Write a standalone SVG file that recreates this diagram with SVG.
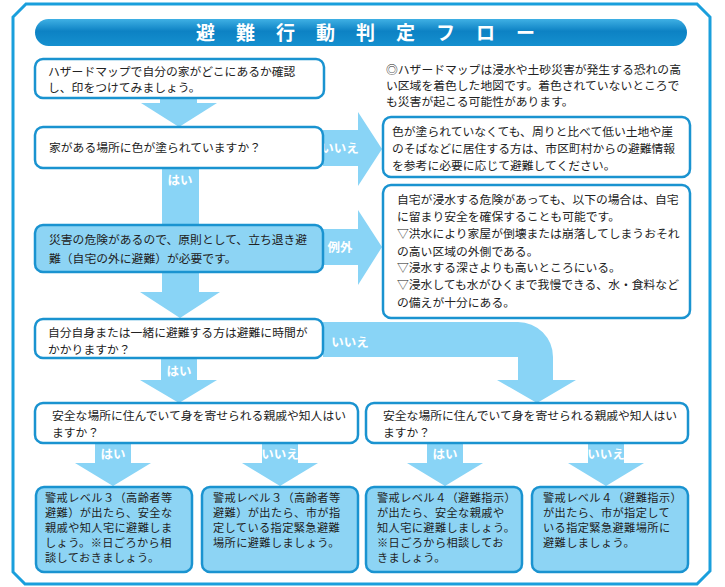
<svg xmlns="http://www.w3.org/2000/svg" width="725" height="587" viewBox="0 0 725 587">
<defs>
<linearGradient id="tg" x1="0" y1="0" x2="0" y2="1">
<stop offset="0" stop-color="#3fb0e4"/>
<stop offset="0.45" stop-color="#0d82c4"/>
<stop offset="1" stop-color="#1590cf"/>
</linearGradient>
<style>
.frame{fill:none;stroke:#1a9fdc;stroke-width:3}
.box{fill:#ffffff;stroke:#1a93d0;stroke-width:2.5}
.boxb{fill:#8dd4f4;stroke:#1a93d0;stroke-width:2.5}
.arr{fill:#89d4f6}
.t{font-family:"Noto Sans CJK JP","Noto Sans",sans-serif;font-size:11.8px;fill:#222}
.s{font-family:"Noto Sans CJK JP","Noto Sans",sans-serif;font-size:11.2px;letter-spacing:0.4px;fill:#222}
.lb{font-family:"Noto Sans CJK JP","Noto Sans",sans-serif;font-size:12.5px;fill:#ffffff;font-weight:bold}
.title{font-family:"Noto Sans CJK JP","Noto Sans",sans-serif;font-size:19px;fill:#ffffff;font-weight:bold;letter-spacing:21px}
</style>
</defs>
<rect width="725" height="587" fill="#ffffff"/>
<path class="frame" d="M26,4 H697 L710,17 V571 L697,584 H25 L13,572 V17 Z"/>
<g id="title">
<rect x="35" y="19" width="652" height="27" rx="13.5" fill="url(#tg)"/>
<text class="title" x="196" y="40">避難行動判定フロー</text>
</g>
<g id="connectors">
<path class="arr" d="M160,98 H197 V103 H217 L179,127 L141,103 H160 Z"/>
<path class="arr" d="M323,130 H358 V112 L382,149 L358,186 V166 H323 Z"/>
<text class="lb" x="340" y="153" text-anchor="middle" font-weight="normal">いいえ</text>
<path class="arr" d="M162,168 H199 V292 H220 L180,318 L140,292 H162 Z"/>
<text class="lb" x="180" y="185" text-anchor="middle">はい</text>
<path class="arr" d="M323,229 H358 V210 L382,247 L358,285 V265 H323 Z"/>
<text class="lb" x="340" y="252" text-anchor="middle">例外</text>
<path class="arr" d="M323,322 H518 A35,35 0 0 1 553,357 V380 H576 L537,403 L497,380 H518 V357 H323 Z"/>
<text class="lb" x="350" y="347" text-anchor="middle" font-weight="normal">いいえ</text>
<path class="arr" d="M161,358 H197 V380 H217 L179,403 L140,380 H161 Z"/>
<text class="lb" x="179" y="376" text-anchor="middle">はい</text>
<path class="arr" d="M95,443 H131 V463 H151 L113,486 L75,463 H95 Z"/>
<text class="lb" x="113" y="459" text-anchor="middle">はい</text>
<path class="arr" d="M262,443 H298 V463 H318 L280,486 L242,463 H262 Z"/>
<text class="lb" x="280" y="459" text-anchor="middle" font-weight="normal">いいえ</text>
<path class="arr" d="M427,443 H463 V463 H483 L445,486 L407,463 H427 Z"/>
<text class="lb" x="445" y="459" text-anchor="middle">はい</text>
<path class="arr" d="M588,443 H624 V463 H644 L606,486 L568,463 H588 Z"/>
<text class="lb" x="606" y="459" text-anchor="middle" font-weight="normal">いいえ</text>
</g>
<g id="n1">
<rect class="box" x="35" y="59" width="289" height="39" rx="8"/>
<text class="t" x="48" y="76">ハザードマップで自分の家がどこにあるか確認</text>
<text class="t" x="48" y="92">し、印をつけてみましょう。</text>
</g>
<g id="note">
<text class="t" x="386" y="74">◎ハザードマップは浸水や土砂災害が発生する恐れの高</text>
<text class="t" x="386" y="90">い区域を着色した地図です。着色されていないところで</text>
<text class="t" x="386" y="106">も災害が起こる可能性があります。</text>
</g>
<g id="n2">
<rect class="box" x="35" y="127" width="288" height="41" rx="8"/>
<text class="t" x="49" y="152">家がある場所に色が塗られていますか？</text>
</g>
<g id="nA">
<rect class="box" x="383" y="117" width="307" height="60" rx="8"/>
<text class="t" x="392" y="136">色が塗られていなくても、周りと比べて低い土地や崖</text>
<text class="t" x="392" y="153">のそばなどに居住する方は、市区町村からの避難情報</text>
<text class="t" x="392" y="170">を参考に必要に応じて避難してください。</text>
</g>
<g id="nB">
<rect class="box" x="383" y="185" width="307" height="133" rx="8"/>
<text class="t" x="397" y="204">自宅が浸水する危険があっても、以下の場合は、自宅</text>
<text class="t" x="397" y="221">に留まり安全を確保することも可能です。</text>
<text class="t" x="397" y="238">▽洪水により家屋が倒壊または崩落してしまうおそれ</text>
<text class="t" x="397" y="256">の高い区域の外側である。</text>
<text class="t" x="397" y="272">▽浸水する深さよりも高いところにいる。</text>
<text class="t" x="397" y="289">▽浸水しても水がひくまで我慢できる、水・食料など</text>
<text class="t" x="397" y="307">の備えが十分にある。</text>
</g>
<g id="n3">
<rect class="boxb" x="35" y="225" width="288" height="47" rx="8"/>
<text class="t" x="49" y="244">災害の危険があるので、原則として、立ち退き避</text>
<text class="t" x="49" y="263">難（自宅の外に避難）が必要です。</text>
</g>
<g id="n4">
<rect class="box" x="35" y="319" width="288" height="39" rx="8"/>
<text class="t" x="48" y="337">自分自身または一緒に避難する方は避難に時間が</text>
<text class="t" x="48" y="354">かかりますか？</text>
</g>
<g id="q1">
<rect class="box" x="35" y="403" width="323" height="40" rx="8"/>
<text class="t" x="52" y="420">安全な場所に住んでいて身を寄せられる親戚や知人はい</text>
<text class="t" x="52" y="437">ますか？</text>
</g>
<g id="q2">
<rect class="box" x="366" y="403" width="322" height="40" rx="8"/>
<text class="t" x="383" y="420">安全な場所に住んでいて身を寄せられる親戚や知人はい</text>
<text class="t" x="383" y="437">ますか？</text>
</g>
<g id="r1">
<rect class="boxb" x="36" y="487" width="156" height="85" rx="8"/>
<text class="s" x="45" y="502">警戒レベル３（高齢者等</text>
<text class="s" x="45" y="517">避難）が出たら、安全な</text>
<text class="s" x="45" y="532">親戚や知人宅に避難しま</text>
<text class="s" x="45" y="547">しょう。※日ごろから相</text>
<text class="s" x="45" y="562">談しておきましょう。</text>
</g>
<g id="r2">
<rect class="boxb" x="202" y="487" width="156" height="85" rx="8"/>
<text class="s" x="213" y="502">警戒レベル３（高齢者等</text>
<text class="s" x="213" y="517">避難）が出たら、市が指</text>
<text class="s" x="213" y="532">定している指定緊急避難</text>
<text class="s" x="213" y="547">場所に避難しましょう。</text>
</g>
<g id="r3">
<rect class="boxb" x="366" y="487" width="156" height="85" rx="8"/>
<text class="s" x="377" y="502">警戒レベル４（避難指示）</text>
<text class="s" x="377" y="517">が出たら、安全な親戚や</text>
<text class="s" x="377" y="532">知人宅に避難しましょう。</text>
<text class="s" x="377" y="547">※日ごろから相談してお</text>
<text class="s" x="377" y="562">きましょう。</text>
</g>
<g id="r4">
<rect class="boxb" x="532" y="487" width="156" height="85" rx="8"/>
<text class="s" x="543" y="502">警戒レベル４（避難指示）</text>
<text class="s" x="543" y="517">が出たら、市が指定して</text>
<text class="s" x="543" y="532">いる指定緊急避難場所に</text>
<text class="s" x="543" y="547">避難しましょう。</text>
</g>
</svg>
